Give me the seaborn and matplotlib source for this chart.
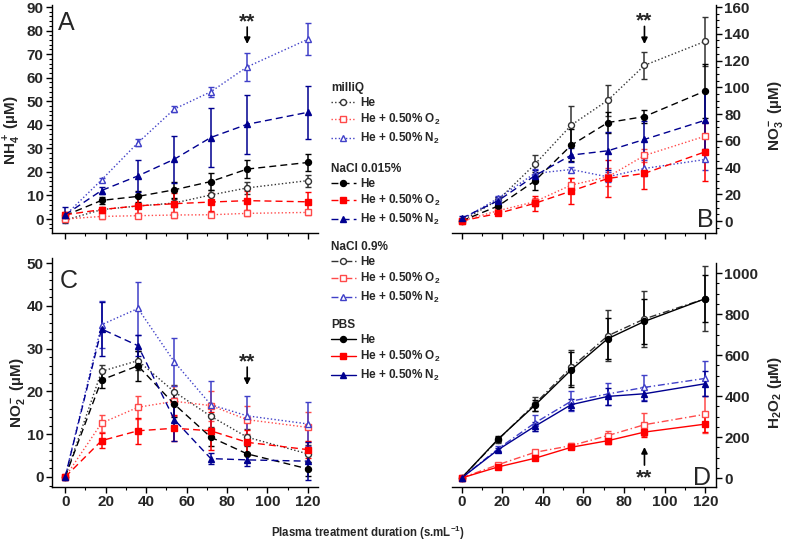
import numpy as np
import pandas as pd
import matplotlib
matplotlib.use("Agg")
import matplotlib.pyplot as plt
from matplotlib.lines import Line2D
from matplotlib.ticker import MultipleLocator, AutoMinorLocator
import seaborn as sns

# ---------------- data ----------------
time_s = [0, 18, 36, 54, 72, 90, 120]

# Panel A : NH4+ (uM)
nh4_mq_he = [-0.5, 4.0, 5.5, 6.8, 10.2, 13.2, 16.3]
nh4_mq_he_err = [0.5, 0.8, 1.0, 1.5, 2.0, 2.5, 2.5]
nh4_mq_o2 = [0.0, 1.1, 1.4, 1.7, 1.8, 2.4, 2.8]
nh4_mq_o2_err = [0.5, 1.0, 1.0, 1.2, 1.0, 1.0, 1.0]
nh4_mq_n2 = [1.5, 16.6, 32.4, 46.7, 54.0, 64.6, 76.3]
nh4_mq_n2_err = [1.0, 1.0, 1.5, 1.2, 2.2, 6.0, 6.8]
nh4_na_he = [1.5, 7.9, 9.6, 12.4, 15.9, 21.2, 24.0]
nh4_na_he_err = [1.0, 1.5, 2.5, 3.5, 3.5, 4.0, 3.7]
nh4_na_o2 = [1.8, 4.0, 5.6, 6.5, 7.2, 7.8, 7.3]
nh4_na_o2_err = [1.0, 1.0, 4.0, 4.5, 4.0, 4.0, 4.2]
nh4_na_n2 = [1.8, 12.1, 18.3, 25.4, 34.6, 40.2, 45.3]
nh4_na_n2_err = [3.3, 1.5, 6.7, 10.0, 12.5, 12.5, 11.3]

# Panel B : NO3- (uM)
no3_mq_he = [0.0, 15.7, 42.3, 71.7, 90.3, 116.4, 134.4]
no3_mq_he_err = [1.0, 2.0, 7.0, 14.5, 11.5, 10.3, 18.4]
no3_mq_o2 = [0.0, 7.7, 14.4, 26.9, 33.0, 49.0, 63.5]
no3_mq_o2_err = [0.5, 1.5, 3.0, 5.0, 7.0, 5.0, 10.0]
no3_mq_n2 = [1.0, 17.0, 35.6, 38.5, 33.0, 39.3, 46.0]
no3_mq_n2_err = [1.0, 2.0, 3.0, 2.0, 4.0, 6.0, 8.0]
no3_na_he = [0.0, 11.2, 29.9, 56.7, 73.6, 78.1, 97.3]
no3_na_he_err = [1.0, 2.0, 7.0, 12.0, 8.0, 5.0, 20.0]
no3_na_o2 = [0.0, 5.7, 13.2, 22.4, 31.8, 35.6, 51.8]
no3_na_o2_err = [0.5, 1.5, 5.5, 10.0, 14.0, 12.0, 22.0]
no3_na_n2 = [2.0, 15.2, 33.8, 49.3, 52.5, 61.0, 75.4]
no3_na_n2_err = [1.5, 3.0, 4.0, 5.0, 14.0, 14.0, 22.0]

# Panel C : NO2- (uM)
no2_mq_he = [0.0, 24.7, 27.2, 19.9, 14.2, 9.3, 5.4]
no2_mq_he_err = [0.3, 1.5, 2.2, 1.5, 2.5, 2.0, 2.0]
no2_mq_o2 = [0.0, 12.6, 16.3, 17.7, 16.7, 13.4, 11.6]
no2_mq_o2_err = [0.3, 2.0, 2.7, 3.5, 3.5, 3.3, 3.5]
no2_mq_n2 = [0.0, 35.6, 39.4, 26.9, 16.9, 14.3, 12.4]
no2_mq_n2_err = [0.3, 5.5, 6.3, 5.7, 5.6, 4.6, 5.2]
no2_na_he = [0.0, 22.7, 26.0, 17.0, 9.3, 5.4, 1.9]
no2_na_he_err = [0.3, 2.0, 3.5, 3.0, 2.0, 2.0, 1.6]
no2_na_o2 = [0.0, 8.5, 10.8, 11.4, 10.8, 8.1, 6.4]
no2_na_o2_err = [0.3, 1.7, 3.0, 3.0, 4.5, 3.0, 2.0]
no2_na_n2 = [0.0, 34.6, 30.7, 13.4, 4.3, 4.0, 3.7]
no2_na_n2_err = [0.3, 6.3, 2.5, 5.0, 1.2, 1.5, 4.5]

# Panel D : H2O2 (uM)
h2o2_n09_he = [0, 187, 361, 540, 694, 776, 875]
h2o2_n09_he_err = [5, 15, 35, 85, 125, 135, 160]
h2o2_n09_o2 = [0, 65, 125, 158, 207, 260, 311]
h2o2_n09_o2_err = [5, 8, 12, 12, 20, 55, 90]
h2o2_n09_n2 = [0, 143, 268, 375, 410, 442, 486]
h2o2_n09_n2_err = [5, 12, 40, 50, 55, 60, 85]
h2o2_pbs_he = [0, 190, 354, 528, 680, 764, 875]
h2o2_pbs_he_err = [5, 15, 25, 85, 100, 110, 115]
h2o2_pbs_o2 = [0, 54, 96, 150, 182, 224, 263]
h2o2_pbs_o2_err = [5, 8, 10, 10, 15, 25, 40]
h2o2_pbs_n2 = [0, 138, 252, 358, 398, 411, 460]
h2o2_pbs_n2_err = [5, 10, 22, 25, 40, 35, 60]

legend_groups = ["milliQ", "NaCl 0.015%", "NaCl 0.9%", "PBS"]
gas_labels = ["He", r"He + 0.50% O$_2$", r"He + 0.50% N$_2$"]
x_label = r"Plasma treatment duration (s.mL$^{-1}$)"

# ---------------- style ----------------
sns.set_theme(style="ticks")
plt.rcParams["font.family"] = ["Liberation Sans", "DejaVu Sans"]
plt.rcParams["font.weight"] = "bold"
plt.rcParams["mathtext.fontset"] = "custom"
plt.rcParams["mathtext.rm"] = "Liberation Sans:bold"
plt.rcParams["mathtext.bf"] = "Liberation Sans:bold"
plt.rcParams["mathtext.it"] = "Liberation Sans:bold"
plt.rcParams["mathtext.default"] = "rm"

BLACK = "#000000"
BLACK_OPEN = "#333333"
RED = "#ff0000"
RED_OPEN = "#ff4a4a"
NAVY = "#000090"
BLUE_OPEN = "#4040c8"

W, H = 788, 542
fig = plt.figure(figsize=(W / 100, H / 100), dpi=100)


def ax_at(l, t, r, b):
    return fig.add_axes([l / W, 1 - b / H, (r - l) / W, (b - t) / H])


axA = ax_at(52, 5, 318, 233)
axB = ax_at(452, 5, 716, 233)
axC = ax_at(52, 258, 318, 487)
axD = ax_at(452, 263, 716, 487)

DOT = (0, (1, 1.6))
DASH = (0, (5, 3))
DASHDOT = (0, (5, 2, 1, 2))
SOLID = "-"
MS = 4.3


def draw(ax, y, err, color, ls, marker, filled):
    ax.errorbar(time_s, y, yerr=err, fmt="none", ecolor=color,
                elinewidth=1.1, capsize=2.0, capthick=1.0, zorder=2)
    sns.lineplot(x=time_s, y=y, ax=ax, color=color, linestyle=ls,
                 marker=marker, markersize=MS,
                 markerfacecolor=color if filled else "white",
                 markeredgecolor=color, markeredgewidth=1.0,
                 linewidth=1.0, errorbar=None, legend=False, zorder=3)


# Panel A
draw(axA, nh4_mq_he, nh4_mq_he_err, BLACK_OPEN, DOT, "o", False)
draw(axA, nh4_mq_o2, nh4_mq_o2_err, RED_OPEN, DOT, "s", False)
draw(axA, nh4_mq_n2, nh4_mq_n2_err, BLUE_OPEN, DOT, "^", False)
draw(axA, nh4_na_he, nh4_na_he_err, BLACK, DASH, "o", True)
draw(axA, nh4_na_o2, nh4_na_o2_err, RED, DASH, "s", True)
draw(axA, nh4_na_n2, nh4_na_n2_err, NAVY, DASH, "^", True)

# Panel B
draw(axB, no3_mq_he, no3_mq_he_err, BLACK_OPEN, DOT, "o", False)
draw(axB, no3_mq_o2, no3_mq_o2_err, RED_OPEN, DOT, "s", False)
draw(axB, no3_mq_n2, no3_mq_n2_err, BLUE_OPEN, DOT, "^", False)
draw(axB, no3_na_he, no3_na_he_err, BLACK, DASH, "o", True)
draw(axB, no3_na_o2, no3_na_o2_err, RED, DASH, "s", True)
draw(axB, no3_na_n2, no3_na_n2_err, NAVY, DASH, "^", True)

# Panel C
draw(axC, no2_mq_he, no2_mq_he_err, BLACK_OPEN, DOT, "o", False)
draw(axC, no2_mq_o2, no2_mq_o2_err, RED_OPEN, DOT, "s", False)
draw(axC, no2_mq_n2, no2_mq_n2_err, BLUE_OPEN, DOT, "^", False)
draw(axC, no2_na_he, no2_na_he_err, BLACK, DASH, "o", True)
draw(axC, no2_na_o2, no2_na_o2_err, RED, DASH, "s", True)
draw(axC, no2_na_n2, no2_na_n2_err, NAVY, DASH, "^", True)

# Panel D
draw(axD, h2o2_n09_he, h2o2_n09_he_err, BLACK_OPEN, DASHDOT, "o", False)
draw(axD, h2o2_n09_o2, h2o2_n09_o2_err, RED_OPEN, DASHDOT, "s", False)
draw(axD, h2o2_n09_n2, h2o2_n09_n2_err, BLUE_OPEN, DASHDOT, "^", False)
draw(axD, h2o2_pbs_he, h2o2_pbs_he_err, BLACK, SOLID, "o", True)
draw(axD, h2o2_pbs_o2, h2o2_pbs_o2_err, RED, SOLID, "s", True)
draw(axD, h2o2_pbs_n2, h2o2_pbs_n2_err, NAVY, SOLID, "^", True)

# ---------------- axes formatting ----------------
axA.set_xlim(-6.5, 125); axC.set_xlim(-6.5, 125)
axB.set_xlim(-4.7, 125.2); axD.set_xlim(-4.7, 125.2)
axA.set_ylim(-5.94, 90.85)
axB.set_ylim(-8.97, 161.5)
axC.set_ylim(-2.34, 51.2)
axD.set_ylim(-43.9, 1048.8)

for ax, major, minor, side in [(axA, 10, 5, "left"), (axB, 20, 4, "right"),
                               (axC, 10, 5, "left"), (axD, 200, 4, "right")]:
    ax.set_xlabel("")
    ax.xaxis.set_major_locator(MultipleLocator(20))
    ax.xaxis.set_minor_locator(AutoMinorLocator(2))
    ax.yaxis.set_major_locator(MultipleLocator(major))
    ax.yaxis.set_minor_locator(AutoMinorLocator(minor))
    ax.spines["top"].set_visible(False)
    other = "right" if side == "left" else "left"
    ax.spines[other].set_visible(False)
    for s in ("bottom", side):
        ax.spines[s].set_color("black")
        ax.spines[s].set_linewidth(1.0)
    if side == "right":
        ax.yaxis.tick_right()
        ax.yaxis.set_label_position("right")
    ax.tick_params(which="major", direction="out", length=4, width=1.0,
                   color="black", labelsize=11, pad=2)
    ax.tick_params(which="minor", direction="out", length=2.2, width=0.8,
                   color="black")
    ax.set_facecolor("none")

axA.tick_params(axis="x", labelbottom=False)
axB.tick_params(axis="x", labelbottom=False)

axA.set_ylabel(r"NH$_4^+$ (µM)", fontsize=11, fontweight="bold", va="center")
axA.yaxis.set_label_coords(-0.150, 0.452)
axC.set_ylabel(r"NO$_2^-$ (µM)", fontsize=11, fontweight="bold", va="center")
axC.yaxis.set_label_coords(-0.128, 0.41)
axB.set_ylabel(r"NO$_3^-$ (µM)", fontsize=11, fontweight="bold", va="center",
               rotation=90)
axB.yaxis.set_label_coords(1.227, 0.513)
axD.set_ylabel(r"H$_2$O$_2$ (µM)", fontsize=11, fontweight="bold", va="center",
               rotation=90)
axD.yaxis.set_label_coords(1.223, 0.424)

fig.text(368 / W, 1 - 533 / H, x_label, ha="center", va="center",
         fontsize=8.3, fontweight="bold")

# panel letters
for ax, lbl, px, py in [(axA, "A", 0.0226, 0.890), (axB, "B", 0.928, 0.026),
                        (axC, "C", 0.030, 0.869), (axD, "D", 0.913, 0.009)]:
    ax.text(px, py, lbl, transform=ax.transAxes, fontsize=18,
            fontweight="normal", ha="left", va="baseline")


# significance markers
def stars(ax, x, y_txt, y_from, y_to):
    ax.annotate("", xy=(x, y_to), xytext=(x, y_from),
                arrowprops=dict(arrowstyle="-|>", color="black", lw=1.2,
                                mutation_scale=9, shrinkA=0, shrinkB=0))
    ax.text(x, y_txt, "**", ha="center", va="center", fontsize=15,
            fontweight="bold")


stars(axA, 90, 83.5, 81.5, 74.3)
stars(axB, 90, 149.5, 145.5, 132.3)
stars(axC, 90, 26.8, 25.7, 21.5)
stars(axD, 90, 0, 63, 151)

# ---------------- legend ----------------
group_styles = [
    (DOT, [BLACK_OPEN, RED_OPEN, BLUE_OPEN], False),
    (DASH, [BLACK, RED, NAVY], True),
    (DASHDOT, [BLACK_OPEN, RED_OPEN, BLUE_OPEN], False),
    (SOLID, [BLACK, RED, NAVY], True),
]
group_tops = [82, 163, 241, 319]
markers = ["o", "s", "^"]
for title, (ls, cols, filled), top in zip(legend_groups, group_styles, group_tops):
    handles = [Line2D([], [], color=c, linestyle=ls, marker=m, markersize=MS,
                      markerfacecolor=c if filled else "white",
                      markeredgecolor=c, markeredgewidth=1.0, linewidth=1.0)
               for c, m in zip(cols, markers)]
    leg = fig.legend(handles, gas_labels, title=title, loc="upper left",
                     bbox_to_anchor=(331 / W, 1 - top / H), frameon=False,
                     fontsize=8.5, title_fontsize=8.5, handlelength=2.1,
                     handletextpad=0.35, labelspacing=0.27, borderpad=0,
                     borderaxespad=0)
    leg._legend_box.align = "left"
    leg.get_title().set_fontweight("bold")

fig.savefig("out.png", dpi=100)
